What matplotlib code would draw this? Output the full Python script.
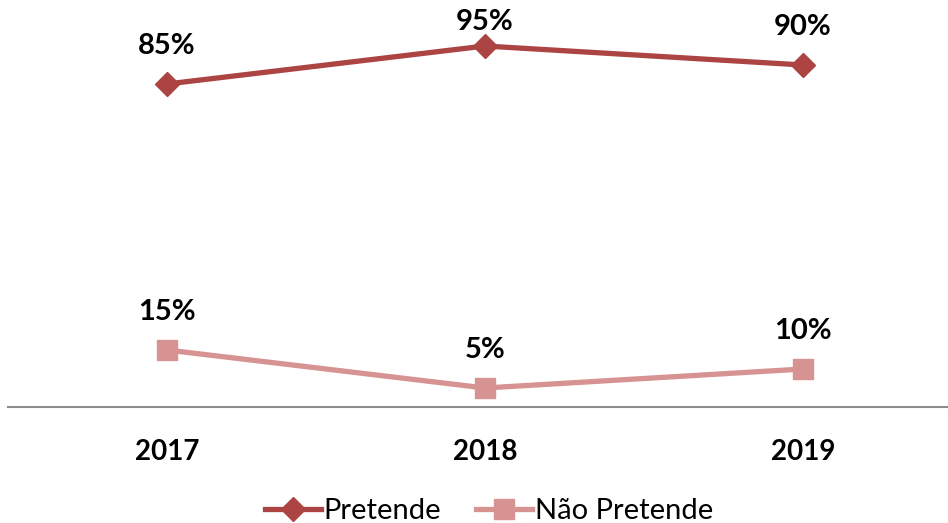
import matplotlib
matplotlib.use("Agg")
import matplotlib.pyplot as plt
from matplotlib.lines import Line2D

years = ["2017", "2018", "2019"]
pretende = [85, 95, 90]
nao_pretende = [15, 5, 10]
series_names = ["Pretende", "Não Pretende"]

c1 = "#AB4442"
c2 = "#D69391"

plt.rcParams['font.family'] = ['Lato', 'DejaVu Sans']

fig = plt.figure(figsize=(9.48, 5.23), dpi=100)
ax = fig.add_axes([8/948, 1-407/523, 1-8/948, 380/523])

x = list(range(len(years)))
ax.plot(x, pretende, color=c1, lw=3.8, marker='D', markersize=12, clip_on=False, label=series_names[0])
ax.plot(x, nao_pretende, color=c2, lw=3.8, marker='s', markersize=14.5, clip_on=False, label=series_names[1])

# label offset ~10 data units above the point; kept inside the figure top
top_limit = 101.3
for series in (pretende, nao_pretende):
    for xi, v in zip(x, series):
        ax.text(xi, min(v + 10, top_limit), f"{v}%", ha='center', va='center',
                fontsize=21, fontweight='bold', color='black', clip_on=False)

ax.set_xlim(-0.5, (948-167)/318)
ax.set_ylim(0, 100)
ax.set_xticks(x)
ax.set_xticklabels(years, fontsize=20, fontweight='bold')
ax.tick_params(axis='x', length=0, pad=23)
ax.set_yticks([])
for s in ['top', 'right', 'left']:
    ax.spines[s].set_visible(False)
ax.spines['bottom'].set_color('#8C8C8C')
ax.spines['bottom'].set_linewidth(1.5)

handles = [Line2D([], [], color=c1, lw=3.8, marker='D', markersize=12),
           Line2D([], [], color=c2, lw=3.8, marker='s', markersize=14.5)]
fig.legend(handles, series_names, loc='center', bbox_to_anchor=(489/948, 1-511/523),
           ncol=2, frameon=False, fontsize=21, handlelength=1.9, handletextpad=0.1,
           columnspacing=1.2, borderpad=0)

fig.savefig("out.png", dpi=100)
